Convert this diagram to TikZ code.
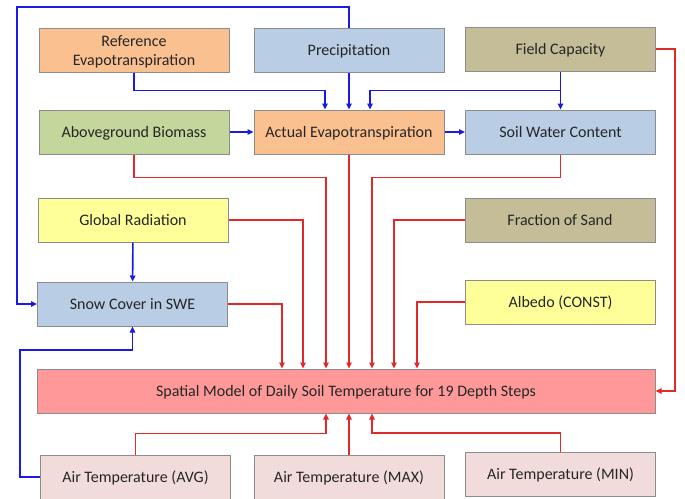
\documentclass[tikz,border=0pt]{standalone}
\usepackage{fontspec}
\setmainfont{Carlito}
\usetikzlibrary{arrows.meta}
\definecolor{cOr}{HTML}{FAC090}
\definecolor{cBl}{HTML}{B9CDE5}
\definecolor{cTan}{HTML}{C4BD97}
\definecolor{cGr}{HTML}{C3D69B}
\definecolor{cYe}{HTML}{FFFF99}
\definecolor{cRed}{HTML}{FF9999}
\definecolor{cPk}{HTML}{F2DCDB}
\definecolor{cEdge}{HTML}{8C8C8C}
\definecolor{lBl}{HTML}{1A1AE6}
\definecolor{lRd}{HTML}{E02A2A}
\tikzset{
  txt/.style={inner sep=0pt, align=center, font=\fontsize{16}{19.5}\selectfont, text=black!85},
  box/.style={txt, draw=cEdge, line width=1pt, minimum width=190pt, minimum height=44pt},
  one/.style={box, text height=10.3pt, text depth=0pt},
  bl/.style={draw=lBl, line width=1.6pt, -{Triangle[length=6pt,width=5.5pt]}},
  rd/.style={draw=lRd, line width=1.6pt, -{Triangle[length=6pt,width=5.5pt]}},
}
\begin{document}
\begin{tikzpicture}[x=1pt,y=-1pt]
\useasboundingbox (0,0) rectangle (685,498);
\fill[white] (0,0) rectangle (685,498);
% boxes
\node[box, fill=cOr]  (ref)  at (134,50)    {};
\node[txt] (reftxt) at (134,52) {Reference\\Evapotranspiration};
\node[one, fill=cBl]  (prec) at (349,50)    {Precipitation};
\node[one, fill=cTan] (fc)   at (560.5,49)  {Field Capacity};
\node[one, fill=cGr]  (agb)  at (134,132)   {Aboveground Biomass};
\node[one, fill=cOr]  (aet)  at (349,132)   {Actual Evapotranspiration};
\node[one, fill=cBl]  (swc)  at (560.5,132) {Soil Water Content};
\node[one, fill=cYe]  (grad) at (133,220)   {Global Radiation};
\node[one, fill=cTan] (sand) at (560,220)   {Fraction of Sand};
\node[one, fill=cBl]  (snow) at (132.5,304) {Snow Cover in SWE};
\node[one, fill=cYe]  (alb)  at (560.5,302) {Albedo (CONST)};
\node[one, fill=cRed, minimum width=618pt] (model) at (346,391) {Spatial Model of Daily Soil Temperature for 19 Depth Steps};
\node[one, fill=cPk]  (tavg) at (135.5,477) {Air Temperature (AVG)};
\node[one, fill=cPk]  (tmax) at (349,477)   {Air Temperature (MAX)};
\node[one, fill=cPk]  (tmin) at (560.5,474.5) {Air Temperature (MIN)};
% helper coordinates
\coordinate (tl) at (17,7);
\coordinate (bl1) at (20,350);
% blue connectors
\draw[bl] (prec.north) |- (tl) |- (snow.west);
\draw[bl] (ref.south) -- ++(0,18) -| (325,0 |- aet.north);
\draw[bl] (prec.south) -- (aet.north);
\draw[bl] (fc.south) -- (swc.north);
\draw[bl] (fc.south) -- ++(0,19) -| (370,0 |- aet.north);
\draw[bl] (agb) -- (aet);
\draw[bl] (aet) -- (swc);
\draw[bl] (grad) -- (snow);
\draw[bl] (tavg.west) -| (bl1) -| (snow.south);
% red connectors
\draw[rd] (fc.east) -- ++(19,0) |- (model.east);
\draw[rd] (agb.south) -- ++(0,23) -| (326,0 |- model.north);
\draw[rd] (aet.south) -- (aet.south |- model.north);
\draw[rd] (swc.south) -- ++(0,23) -| (372,0 |- model.north);
\draw[rd] (grad.east) -| (303,0 |- model.north);
\draw[rd] (snow.east) -| (282,0 |- model.north);
\draw[rd] (sand.west) -| (394,0 |- model.north);
\draw[rd] (alb.west) -| (417,0 |- model.north);
\draw[rd] (tavg.north) -- ++(0,-21) -| (326,0 |- model.south);
\draw[rd] (tmax.north) -- (tmax.north |- model.south);
\draw[rd] (tmin.north) -- ++(0,-19) -| (372,0 |- model.south);
\end{tikzpicture}
\end{document}
